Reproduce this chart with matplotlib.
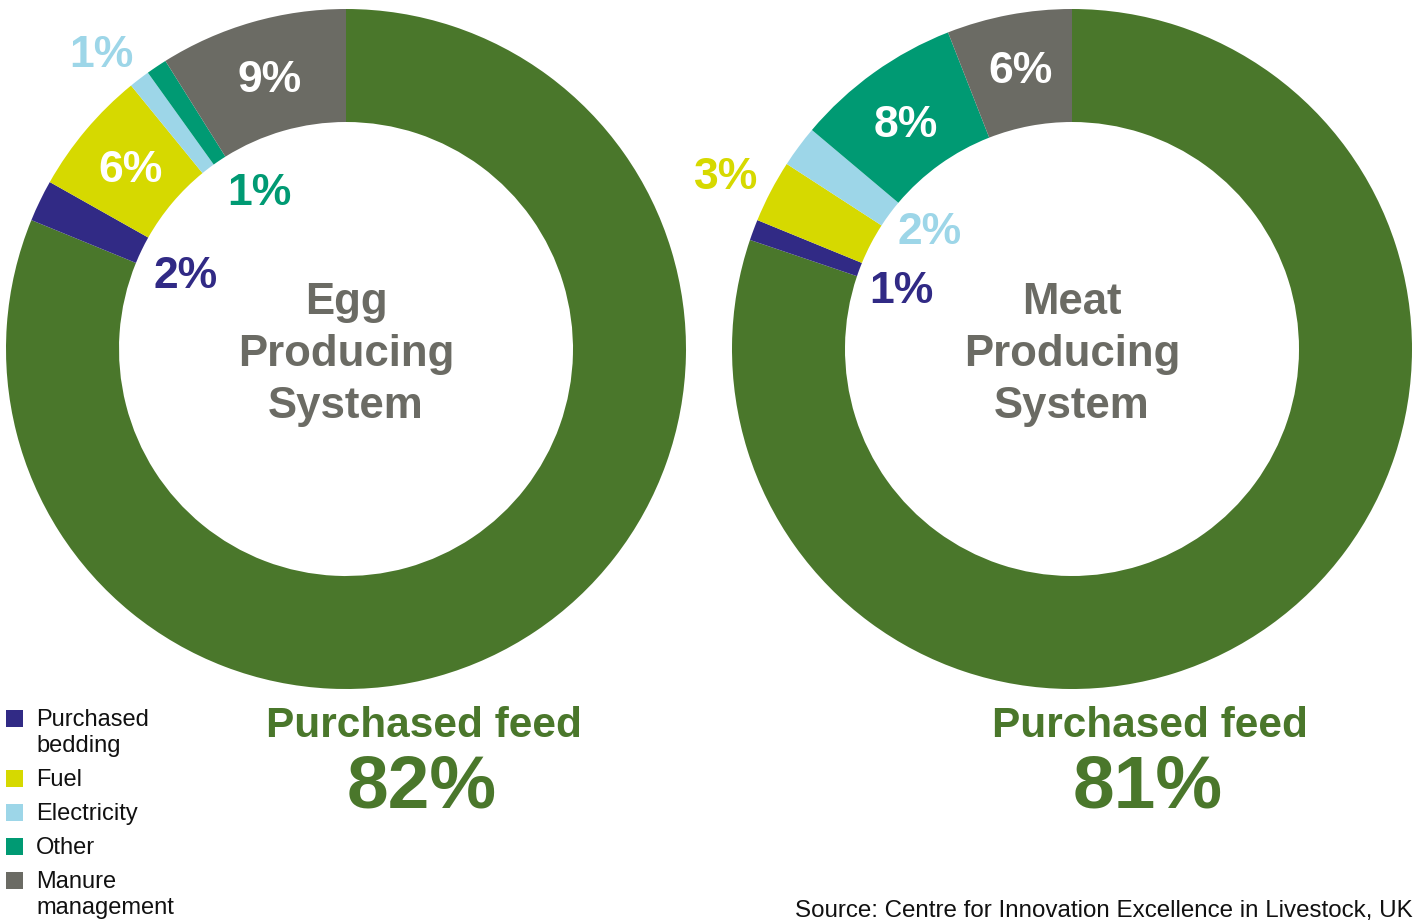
import matplotlib
matplotlib.use("Agg")
import matplotlib.pyplot as plt
from matplotlib.patches import Rectangle

plt.rcParams['font.family'] = ['Liberation Sans', 'DejaVu Sans']

# emission sources, clockwise from 12 o'clock
categories = ['Purchased feed', 'Purchased bedding', 'Fuel', 'Electricity', 'Other', 'Manure management']
legend_labels = ['Purchased\nbedding', 'Fuel', 'Electricity', 'Other', 'Manure\nmanagement']
egg_values = [82, 2, 6, 1, 1, 9]
meat_values = [81, 1, 3, 2, 8, 6]
system_titles = ['Egg\nProducing\nSystem', 'Meat\nProducing\nSystem']
source_note = 'Source: Centre for Innovation Excellence in Livestock, UK'

colors = ['#4a772b', '#312a85', '#d6d900', '#9dd6e8', '#009a73', '#6b6b64']
GREY = '#6b6b64'
W, H = 1417, 923

# label offsets (px from donut centre, to baseline) and colours for the small slices
egg_label_pos = [None, (-160, -61), (-216, -167), (-245, -282), (-87, -144), (-76, -257)]
egg_label_col = [None, colors[1], 'white', colors[3], colors[4], 'white']
meat_label_pos = [None, (-171, -46), (-346, -160), (-142, -105), (-166, -212), (-52, -266)]
meat_label_col = [None, colors[1], colors[2], colors[3], 'white', 'white']

fig = plt.figure(figsize=(W / 100, H / 100), dpi=100)
ax = fig.add_axes([0, 0, 1, 1])

def donut(vals, cx, title, lpos, lcol):
    cy = 349
    ax.pie(vals, colors=colors, radius=340, center=(cx, H - cy), startangle=90,
           counterclock=False, wedgeprops=dict(width=113, linewidth=0))
    for i, v in enumerate(vals):
        if lpos[i] is None:
            continue
        dx, dy = lpos[i]
        ax.text(cx + dx, H - (cy + dy), f'{v}%', ha='center', va='baseline',
                fontsize=32, fontweight='bold', color=lcol[i])
    for k, line in enumerate(title.split('\n')):
        ax.text(cx, H - (314 + 52 * k), line, ha='center', va='baseline',
                fontsize=31.5, fontweight='bold', color=GREY)
    ax.text(cx + 78, H - 737, categories[0], ha='center', va='baseline',
            fontsize=30.5, fontweight='bold', color=colors[0])
    ax.text(cx + 76, H - 808, f'{vals[0]}%', ha='center', va='baseline',
            fontsize=54, fontweight='bold', color=colors[0])

donut(egg_values, 346, system_titles[0], egg_label_pos, egg_label_col)
donut(meat_values, 1072, system_titles[1], meat_label_pos, meat_label_col)

# legend drawn by hand so the two-line labels wrap like the source
row_base = [726, 786, 820, 854, 888]
for lab, col, yb in zip(legend_labels, colors[1:], row_base):
    ax.add_patch(Rectangle((6, H - yb - 1), 17, 17, facecolor=col, edgecolor='none'))
    for k, line in enumerate(lab.split('\n')):
        ax.text(36, H - (yb + 26 * k), line, ha='left', va='baseline',
                fontsize=17, color='#111111')

ax.text(1413, H - 917, source_note, ha='right', va='baseline', fontsize=17.4, color='#111111')

ax.set_xlim(0, W)
ax.set_ylim(0, H)
ax.set_aspect('auto')
ax.axis('off')

fig.savefig('out.png', dpi=100, facecolor='white')
